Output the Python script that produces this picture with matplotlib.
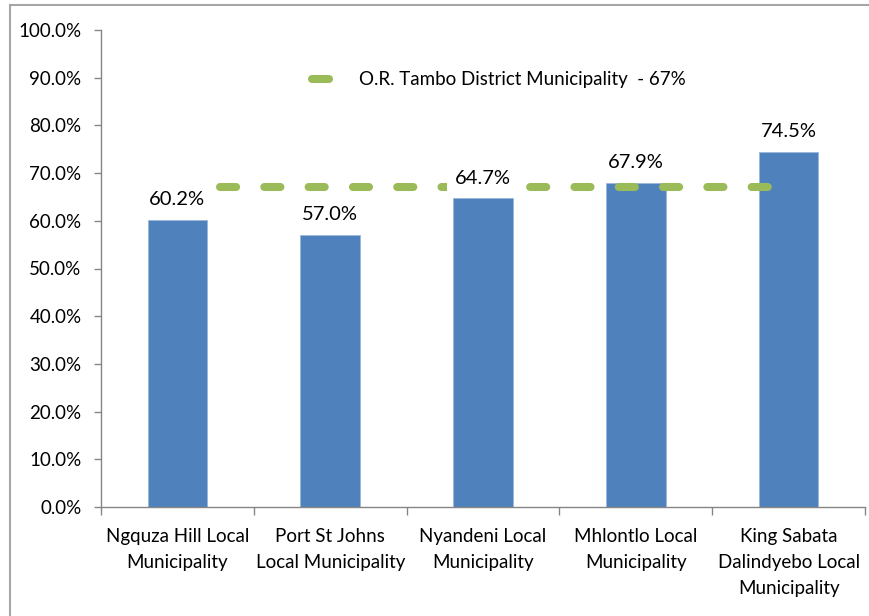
import matplotlib
matplotlib.use("Agg")
import matplotlib.pyplot as plt
from matplotlib.patches import Rectangle
from matplotlib.lines import Line2D
from matplotlib.ticker import FuncFormatter, FixedLocator

plt.rcParams['font.family'] = ['Lato', 'DejaVu Sans']

municipalities = ["Ngquza Hill Local\nMunicipality",
                  "Port St Johns\nLocal Municipality",
                  "Nyandeni Local\nMunicipality",
                  "Mhlontlo Local\nMunicipality",
                  "King Sabata\nDalindyebo Local\nMunicipality"]
rates = [60.2, 57.0, 64.7, 67.9, 74.5]
district_name = "O.R. Tambo District Municipality  - 67%"
district_rate = 67.0

bar_color = "#4F81BD"
line_color = "#9BBB59"
axis_color = "#868686"

fig = plt.figure(figsize=(8.7, 6.16), dpi=100)
ax = fig.add_axes([101 / 870, 1 - 507 / 616, 764 / 870, 477 / 616])

x = list(range(len(rates)))
ax.bar(x, rates, width=0.39, color=bar_color, edgecolor="#9DB7DA",
       linewidth=0.6, zorder=2)

ax.hlines(district_rate, 0.28, 3.9, colors=line_color, linewidth=5.8,
          linestyles=(0, (2, 3.5)), capstyle="round", zorder=3)

for xi, v in zip(x, rates):
    ax.annotate(f"{v:.1f}%", (xi, v), xytext=(0, 8.5), textcoords="offset points",
                ha="center", va="bottom", fontsize=14.5, color="black",
                bbox=dict(facecolor="white", edgecolor="none", pad=6),
                zorder=4)

ax.set_xlim(-0.5, len(rates) - 0.5)
ax.set_ylim(0, 100)
ax.yaxis.set_major_locator(FixedLocator([i * 10 for i in range(11)]))
ax.yaxis.set_major_formatter(FuncFormatter(lambda v, p: f"{v:.1f}%"))
ax.set_xticks(x)
ax.set_xticklabels(municipalities, fontsize=13.5, linespacing=1.66)
ax.xaxis.set_minor_locator(FixedLocator([i - 0.5 for i in range(len(rates) + 1)]))
ax.tick_params(axis="x", which="major", length=0, pad=15)
ax.tick_params(axis="x", which="minor", length=6, color=axis_color, width=1)
ax.tick_params(axis="y", length=5, color=axis_color, width=1, labelsize=13.5, pad=9)

for side in ["top", "right"]:
    ax.spines[side].set_visible(False)
for side in ["left", "bottom"]:
    ax.spines[side].set_color(axis_color)
    ax.spines[side].set_linewidth(1)

handle = Line2D([], [], color=line_color, linewidth=5.8, solid_capstyle="round")
ax.legend([handle], [district_name], loc="center left",
          bbox_to_anchor=((312 - 101) / 764, (507 - 80) / 477),
          frameon=False, fontsize=13.5, handlelength=0.9, handletextpad=1.63,
          borderpad=0, borderaxespad=0)

fig.patches.append(Rectangle((10 / 870, -0.1), 1.2, 1.1 - 5 / 616,
                             transform=fig.transFigure, fill=False,
                             edgecolor="#A6A6A6", linewidth=1.5))

fig.savefig("out.png", dpi=100)
